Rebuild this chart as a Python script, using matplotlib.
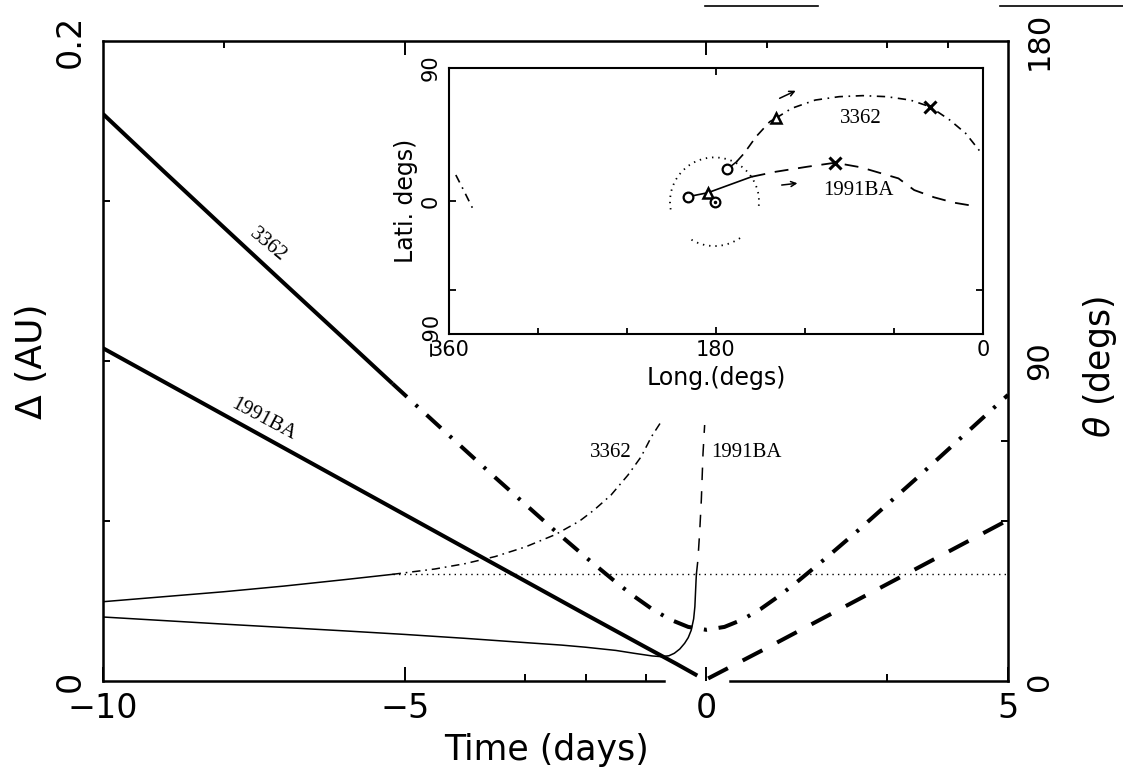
import matplotlib
matplotlib.use("Agg")
import matplotlib.pyplot as plt
from matplotlib.patches import Arc
from matplotlib.lines import Line2D

plt.rcParams["font.family"] = ["DejaVu Sans"]
plt.rcParams["mathtext.fontset"] = "dejavusans"
plt.rcParams["lines.scale_dashes"] = False

# ---- geocentric distance (AU) against time from closest approach (days) ----
# 3362: solid while theta < 30 deg, dash-dot afterwards
t_3362_vis = [-10, -9, -8, -7, -6, -5.2]
d_3362_vis = [0.1772, 0.1594, 0.1418, 0.1243, 0.1069, 0.0929]
t_3362_low = [-5.2, -4.5, -4, -3.5, -3, -2.5, -2, -1.5, -1.2, -0.9, -0.6, -0.3, 0,
              0.3, 0.6, 0.9, 1.2, 1.5, 2, 2.5, 3, 3.5, 4, 4.5, 5]
d_3362_low = [0.0929, 0.0808, 0.0722, 0.0636, 0.0552, 0.0468, 0.0387, 0.0309, 0.0265,
              0.0225, 0.0192, 0.0169, 0.0160, 0.0169, 0.0192, 0.0225, 0.0265, 0.0309,
              0.0387, 0.0468, 0.0552, 0.0636, 0.0722, 0.0808, 0.0894]

# 1991BA
t_ba_vis = [-10, -8, -6, -4, -2, -1, -0.5, -0.15]
d_ba_vis = [0.1040, 0.0832, 0.0624, 0.0416, 0.0208, 0.0105, 0.0054, 0.0017]
t_ba_low = [0.03, 1, 2, 3, 4, 5]
d_ba_low = [0.0008, 0.0103, 0.0203, 0.0303, 0.0403, 0.0503]

# ---- angle theta (deg) ----
theta_limit = 30
t_3362_th_vis = [-10, -9, -8, -7, -6, -5.2]
th_3362_vis = [22.3, 23.7, 25.1, 26.7, 28.5, 30.0]
t_3362_th_low = [-5.2, -4.5, -4, -3.5, -3, -2.5, -2.1, -1.86, -1.58, -1.3, -1.08, -0.91, -0.75]
th_3362_low = [30.0, 31.5, 33.0, 35.0, 37.7, 41.2, 45.0, 48.1, 52.3, 57.9, 63.1, 68.7, 72.9]

t_ba_th_vis = [-10, -8, -6, -5, -4, -3, -2.4, -2, -1.5, -1.2, -0.9, -0.75, -0.62, -0.53,
               -0.44, -0.36, -0.3, -0.25, -0.21, -0.19, -0.17, -0.165]
th_ba_vis = [18.0, 16.0, 14.1, 13.1, 12.0, 10.8, 10.1, 9.5, 8.6, 7.8, 7.05, 6.85, 7.1, 7.8,
             9.0, 10.6, 12.2, 14.3, 17.5, 20.9, 28.4, 30.0]
t_ba_th_low = [-0.165, -0.14, -0.11, -0.083, -0.055, -0.028]
th_ba_low = [30.0, 34.0, 42.0, 50.9, 64.0, 72.0]

# ---- sky track: ecliptic longitude / latitude (deg) ----
sun_lon, sun_lat = 181.0, -0.5
elong_radius = 30

lon_3362_start, lat_3362_start = [172.4, 166.1], [21.5, 26.6]
lon_3362_a = [166.1, 161.0, 153.0, 143.7, 139.7]
lat_3362_a = [26.6, 32.3, 43.5, 53.7, 56.0]
lon_3362_b = [139.7, 129.0, 113.1, 97.0, 81.0, 65.0, 49.0, 35.7, 22.4, 11.7, 1.0]
lat_3362_b = [56.0, 62.7, 68.3, 70.6, 71.3, 70.6, 68.3, 63.8, 54.8, 45.8, 32.3]
lon_3362_c = [355.4, 350.0, 344.1]
lat_3362_c = [17.6, 7.0, -4.9]
lon_3362_mk = [172.4, 139.7, 35.7]
lat_3362_mk = [21.5, 56.0, 63.8]

lon_ba_a = [198.9, 185.5, 156.0]
lat_ba_a = [2.9, 5.6, 16.4]
lon_ba_b = [156.0, 139.7, 118.4, 99.7, 82.4, 57.0, 46.4, 33.0, 19.7, 3.7]
lat_ba_b = [16.4, 19.8, 23.2, 25.9, 22.8, 15.3, 7.4, 2.5, -1.1, -3.8]
lon_ba_mk = [198.9, 185.5, 99.7]
lat_ba_mk = [2.9, 5.6, 25.9]

arrow_3362 = [(137.1, 69.5), (126.3, 74.6)]
arrow_ba = [(135.7, 10.8), (125.1, 12.0)]

fig = plt.figure(figsize=(11.23, 7.71), dpi=100)
W, H = 1123.0, 771.0

ax = fig.add_axes([103 / W, 1 - 681 / H, (1008 - 103) / W, (681 - 41) / H])
ax.set_xlim(-10, 5)
ax.set_ylim(0, 0.2)
ax2 = ax.twinx()
ax2.set_ylim(0, 180)

thick = 2.9
thin = 1.1
ax.plot(t_3362_vis, d_3362_vis, color="k", lw=thick, solid_capstyle="butt", zorder=3)
ax.plot(t_3362_low, d_3362_low, color="k", lw=thick, dashes=(14, 8.5, 2.2, 8.5), zorder=3)
ax.plot(t_ba_vis, d_ba_vis, color="k", lw=thick, solid_capstyle="butt", zorder=3)
ax.plot(t_ba_low, d_ba_low, color="k", lw=thick, dashes=(16, 12), zorder=3)

ax2.plot(t_3362_th_vis, th_3362_vis, color="k", lw=thin)
ax2.plot(t_3362_th_low, th_3362_low, color="k", lw=thin, dashes=(6, 3.5, 1.2, 3.5))
ax2.plot(t_ba_th_vis, th_ba_vis, color="k", lw=thin)
ax2.plot(t_ba_th_low, th_ba_low, color="k", lw=thin, dashes=(9, 8))
ax2.hlines(theta_limit, -5.2, 5, colors="k", lw=1.0, linestyles=(0, (1, 3)))

# curve labels
serif = ["Liberation Serif", "DejaVu Serif"]
ax.text(-7.26, 0.1363, "3362", family=serif, fontsize=15, rotation=-40,
        ha="center", va="center", rotation_mode="anchor")
ax.text(-7.34, 0.0816, "1991BA", family=serif, fontsize=15, rotation=-28,
        ha="center", va="center", rotation_mode="anchor")
ax.text(-1.59, 0.0713, "3362", family=serif, fontsize=15, ha="center", va="center")
ax.text(0.66, 0.0713, "1991BA", family=serif, fontsize=15, ha="center", va="center")

# frame and ticks
for a in (ax, ax2):
    a.spines["bottom"].set_visible(False)
bx = ax.get_xaxis_transform()
ax.plot([-10, -0.7], [0, 0], color="k", lw=1.8, transform=bx, clip_on=False, zorder=4)
ax.plot([0.4, 5], [0, 0], color="k", lw=1.8, transform=bx, clip_on=False, zorder=4)
for s in ("left", "top", "right"):
    ax2.spines[s].set_linewidth(1.8)

ax.set_xticks([-10, -5, 0, 5])
ax.set_xticklabels(["\u221210", "\u22125", "0", "5"])
ax.set_xticks([-3, -2, -1, 3], minor=True)
ax.tick_params(axis="x", which="major", direction="in", length=10, width=1.4,
               labelsize=24, pad=8)
ax.tick_params(axis="x", which="minor", direction="in", length=5, width=1.4)
top = ax.secondary_xaxis("top")
top.set_xticks([-5, 0])
top.set_xticks([-8, 1, 3, 4], minor=True)
top.tick_params(which="major", direction="in", length=10, width=1.4, labeltop=False)
top.tick_params(which="minor", direction="in", length=5, width=1.4)
top.spines["top"].set_visible(False)

ax.set_yticks([0, 0.2])
ax.set_yticklabels(["0", "0.2"], rotation=90, va="center")
ax.set_yticks([0.05, 0.1, 0.15], minor=True)
ax.tick_params(axis="y", which="both", direction="in", width=1.4, labelsize=24, pad=12)
ax.tick_params(axis="y", which="major", length=0)
ax.tick_params(axis="y", which="minor", length=5)

ax2.set_yticks([0, 90, 180])
ax2.set_yticklabels(["0", "90", "180"], rotation=90, va="center")
ax2.set_yticks([45, 67.5], minor=True)
ax2.tick_params(axis="y", which="both", direction="in", width=1.4, labelsize=22, pad=12)
ax2.tick_params(axis="y", which="major", length=0)
ax2.tick_params(axis="y", which="minor", length=5)

ax.set_xlabel("Time (days)", fontsize=25, va="center", ha="center")
ax.xaxis.set_label_coords(0.49, -0.108)
ax.set_ylabel("\u0394 (AU)", fontsize=26, va="center", ha="center")
ax.yaxis.set_label_coords(-0.0785, 0.5)
ax2.set_ylabel(r"$\theta$ (degs)", fontsize=25, rotation=90, va="center", ha="center")
ax2.yaxis.set_label_coords(1.1017, 0.49)

# ---- sky-track inset ----
ai = fig.add_axes([449 / W, 1 - 334 / H, (983 - 449) / W, (334 - 68) / H])
ai.set_facecolor("white")
ai.set_xlim(360, 0)
ai.set_ylim(-90, 90)
for s in ai.spines.values():
    s.set_linewidth(1.5)

ai.add_patch(Arc((sun_lon, sun_lat), 2 * elong_radius, 2 * elong_radius,
                 theta1=-10, theta2=190, ls=(0, (1, 3.5)), lw=1.3, color="k"))
ai.add_patch(Arc((sun_lon, sun_lat), 2 * elong_radius, 2 * elong_radius,
                 theta1=235, theta2=305, ls=(0, (1, 3.5)), lw=1.3, color="k"))

ai.plot(lon_3362_start, lat_3362_start, color="k", lw=1.1)
ai.plot(lon_3362_a, lat_3362_a, color="k", lw=1.2, dashes=(7, 5))
ai.plot(lon_3362_b, lat_3362_b, color="k", lw=1.2, dashes=(6, 4, 1.2, 4))
ai.plot(lon_3362_c, lat_3362_c, color="k", lw=1.2, dashes=(6, 4, 1.2, 4))
ai.plot(lon_ba_a, lat_ba_a, color="k", lw=1.2)
ai.plot(lon_ba_b, lat_ba_b, color="k", lw=1.3, dashes=(10, 7))

for lons, lats in ((lon_3362_mk, lat_3362_mk), (lon_ba_mk, lat_ba_mk)):
    ai.plot(lons[0], lats[0], "o", ms=7, mfc="white", mec="k", mew=1.6)
    ai.plot(lons[1], lats[1], "^", ms=7, mfc="white", mec="k", mew=1.8)
    ai.plot(lons[2], lats[2], "x", ms=9, mec="k", mew=2.2)
ai.plot(sun_lon, sun_lat, "o", ms=7, mfc="white", mec="k", mew=1.6)
ai.plot(sun_lon, sun_lat, ".", ms=3, color="k")

for (x0, y0), (x1, y1) in (arrow_3362, arrow_ba):
    ai.annotate("", xy=(x1, y1), xytext=(x0, y0),
                arrowprops=dict(arrowstyle="->", lw=1.1, color="k",
                                shrinkA=0, shrinkB=0, mutation_scale=9))

ai.text(82.3, 55.5, "3362", family=serif, fontsize=15, ha="center", va="center")
ai.text(84.3, 6.8, "1991BA", family=serif, fontsize=15, ha="center", va="center")

ai.set_xticks([360, 180, 0])
ai.set_xticklabels(["360", "180", "0"])
ai.set_xticks([300, 240, 120, 60], minor=True)
ai.tick_params(axis="x", which="major", direction="in", length=5, width=1.3,
               top=True, labelsize=15, pad=4)
ai.tick_params(axis="x", which="minor", direction="in", length=4, width=1.3)
ai.set_yticks([-90, 0, 90])
ai.set_yticklabels(["\u221290", "0", "90"], rotation=90, va="center")
ai.set_yticks([-60], minor=True)
ai.tick_params(axis="y", which="major", direction="in", length=5, width=1.3,
               labelsize=15, pad=6)
ai.tick_params(axis="y", which="minor", direction="in", length=5, width=1.3, right=True)
ai.set_xlabel("Long.(degs)", fontsize=17, labelpad=5)
ai.set_ylabel("Lati. degs)", fontsize=17, labelpad=2)

# stray frame edges along the top margin
for x0, x1 in ((705, 818), (1000, 1123)):
    fig.add_artist(Line2D([x0 / W, x1 / W], [1 - 6 / H, 1 - 6 / H], color="k", lw=1.2,
                          transform=fig.transFigure))

fig.savefig("out.png", dpi=100)
